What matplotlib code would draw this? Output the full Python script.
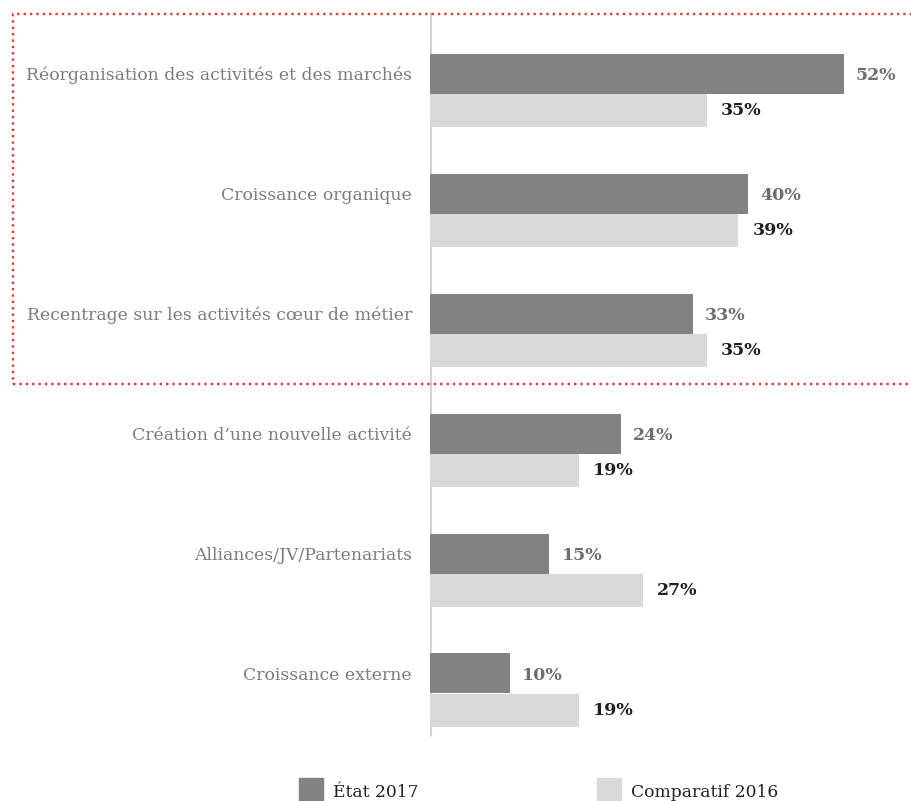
import matplotlib
matplotlib.use("Agg")
import matplotlib.pyplot as plt
from matplotlib.patches import Rectangle

categories = [
    "Réorganisation des activités et des marchés",
    "Croissance organique",
    "Recentrage sur les activités cœur de métier",
    "Création d\u2019une nouvelle activité",
    "Alliances/JV/Partenariats",
    "Croissance externe",
]
etat_2017 = [52, 40, 33, 24, 15, 10]
comparatif_2016 = [35, 39, 35, 19, 27, 19]
series_names = ["État 2017", "Comparatif 2016"]

DARK = "#828285"
LIGHT = "#d9d9db"
W, H = 911, 801
px = 7.96  # pixels per percent

plt.rcParams["font.family"] = ["DejaVu Serif"]

fig = plt.figure(figsize=(W / 100, H / 100), dpi=100)
ax = fig.add_axes([430 / W, 0, 1 - 430 / W, 1])
ax.set_xlim(0, (W - 430) / px)
ax.set_ylim((H - 93.5) / 120, -93.5 / 120)
ax.axis("off")

pos = list(range(len(categories)))
dark_h = 40 / 120
light_h = 33 / 120
ax.barh([p - dark_h / 2 for p in pos], etat_2017, height=dark_h, color=DARK, zorder=2)
ax.barh([p + light_h / 2 for p in pos], comparatif_2016, height=light_h, color=LIGHT,
        left=-2 / px, zorder=2)
ax.vlines(0, -0.68, 5.35, color="#d2d2d4", lw=2.2, zorder=1.5)

off = 12 / px
for p, name, v1, v2 in zip(pos, categories, etat_2017, comparatif_2016):
    ax.text(-18 / px, p - 13.5 / 120, name, ha="right", va="baseline",
            fontsize=12.4, color="#7b7b7e", clip_on=False)
    ax.text(v1 + off, p - 13.5 / 120, f"{v1}%", ha="left", va="baseline",
            fontsize=12.5, fontweight="bold", color="#6e6e71", clip_on=False)
    ax.text(v2 + off, p + 21.5 / 120, f"{v2}%", ha="left", va="baseline",
            fontsize=12.5, fontweight="bold", color="#231f20", clip_on=False)

# legend
for x0, col, lab in [(299, DARK, series_names[0]), (597, LIGHT, series_names[1])]:
    fig.patches.append(Rectangle((x0 / W, 1 - 801 / H), 24 / W, 23 / H,
                                 transform=fig.transFigure, color=col))
    fig.text((x0 + 34) / W, 1 - 797 / H, lab, fontsize=12.3, color="#231f20",
             ha="left", va="baseline")

# highlight box
fig.patches.append(Rectangle((13 / W, 1 - 384 / H), 910 / W, 370 / H,
                             transform=fig.transFigure, fill=False,
                             edgecolor="#e03a30", lw=1.7, linestyle=(0, (1, 1.7))))

fig.savefig("out.png", dpi=100)
